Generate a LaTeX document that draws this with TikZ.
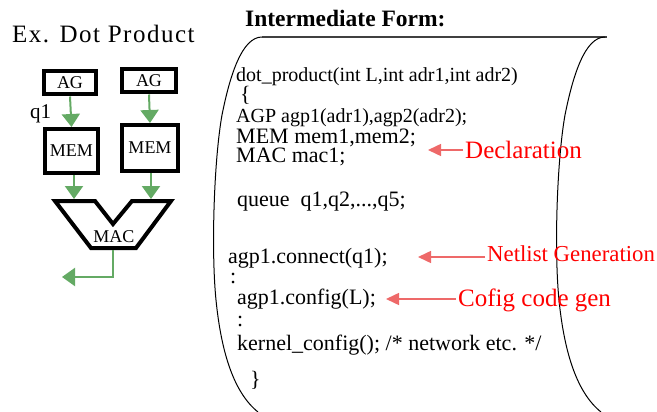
\documentclass[tikz,border=0pt]{standalone}
\usepackage{fontspec}
\setmainfont{Liberation Serif}
\usetikzlibrary{arrows.meta}
\definecolor{garrow}{RGB}{100,170,100}
\definecolor{rarrow}{RGB}{238,105,105}
\begin{document}
\begin{tikzpicture}[x=1pt,y=-1pt,
  code/.style={anchor=base west,inner sep=0pt,font=\fontsize{22}{22}\selectfont},
  tightcode/.style={code,font=\fontsize{20}{20}\selectfont},
  lbl/.style={anchor=base west,inner sep=0pt,text=red},
  blk/.style={draw,line width=4pt,inner sep=0pt,font=\fontsize{18}{18}\selectfont},
  garr/.style={draw=garrow,line width=2pt,-{Triangle[width=18pt,length=13pt]}},
  rarr/.style={draw=rarrow,line width=1.5pt,-{Triangle[width=12pt,length=13pt]}},
  scrolledge/.style={line width=1pt}]
\useasboundingbox (0,0) rectangle (657,412);

% title texts
\node[anchor=base west,inner sep=0pt,font=\fontsize{25}{25}\selectfont] (ex) at (12,43) {\addfontfeature{LetterSpace=6}Ex. Dot Product};
\node[anchor=base west,inner sep=0pt,font=\fontsize{23.5}{23.5}\selectfont\bfseries] (inter) at (245,27) {Intermediate Form:};

% left block diagram
\node[blk,minimum width=52pt,minimum height=23pt] (ag1) at (70,83) {AG};
\node[blk,minimum width=54pt,minimum height=23pt] (ag2) at (149,81) {AG};
\node[blk,minimum width=53pt,minimum height=44pt] (mem1) at (71.5,151) {MEM};
\node[blk,minimum width=56pt,minimum height=46pt] (mem2) at (150,148) {MEM};
\node[anchor=base west,inner sep=0pt,font=\fontsize{21}{21}\selectfont] (q1) at (30,119) {q1};
\draw[line width=4pt,line join=miter] (55,201) -- (95,201) -- (113,224) -- (132,201) -- (171,201) -- (136,248) -- (91,248) -- cycle;
\node[inner sep=0pt,font=\fontsize{18}{18}\selectfont] (mac) at (114,237) {MAC};
\coordinate (macl) at (74,199);
\coordinate (macr) at (151,199);
\coordinate (macout) at (113,250);
\coordinate (outend) at (62,277);

\draw[garr] (ag1.south) -- (mem1.north);
\draw[garr] (ag2.south) -- (mem2.north);
\draw[garr] (mem1.south -| macl) -- (macl);
\draw[garr] (mem2.south -| macr) -- (macr);
\draw[garr] (macout) |- (outend);

% scroll
\draw[line width=1.3pt,black!75] (262,37) -- (607,37);
\foreach \dx in {0,343}{
  \draw[scrolledge,xshift=\dx pt] (262,37) .. controls (242,37) and (230,75) .. (222,115)
     .. controls (214,160) and (211,250) .. (216,300)
     .. controls (221,350) and (233,392) .. (258,412);
}

% code lines
\node[tightcode] (l1) at (236,82) {dot\_product(int L,int adr1,int adr2)};
\node[code] (l2) at (240,102) {\{};
\node[tightcode] (l3) at (236,123) {AGP agp1(adr1),agp2(adr2);};
\node[code] (l4) at (236,143) {MEM mem1,mem2;};
\node[code] (l5) at (236,163) {MAC mac1;};
\node[code] (l6) at (237,206) {queue\ \ q1,q2,...,q5;};
\node[code] (l7) at (228,263) {agp1.connect(q1);};
\node[code] (l8) at (230,283) {:};
\node[code] (l9) at (237,304) {agp1.config(L);};
\node[code] (l10) at (237,326) {:};
\node[code] (l11) at (237,350) {kernel\_config(); /* network etc. */};
\node[code] (l12) at (250,386) {\}};

% red labels
\node[lbl,font=\fontsize{25}{25}\selectfont] (decl) at (465,158) {Declaration};
\node[lbl,font=\fontsize{22.8}{22.8}\selectfont] (net) at (487,261) {Netlist Generation};
\node[lbl,font=\fontsize{25}{25}\selectfont] (cfg) at (458,306) {Cofig code gen};
\coordinate (dtip) at (428,150);
\coordinate (ntip) at (418,257);
\coordinate (ctip) at (386,299);
\draw[rarr] ([xshift=-2pt]decl.west |- dtip) -- (dtip);
\draw[rarr] ([xshift=-2pt]net.west |- ntip) -- (ntip);
\draw[rarr] ([xshift=-2pt]cfg.west |- ctip) -- (ctip);
\end{tikzpicture}
\end{document}
